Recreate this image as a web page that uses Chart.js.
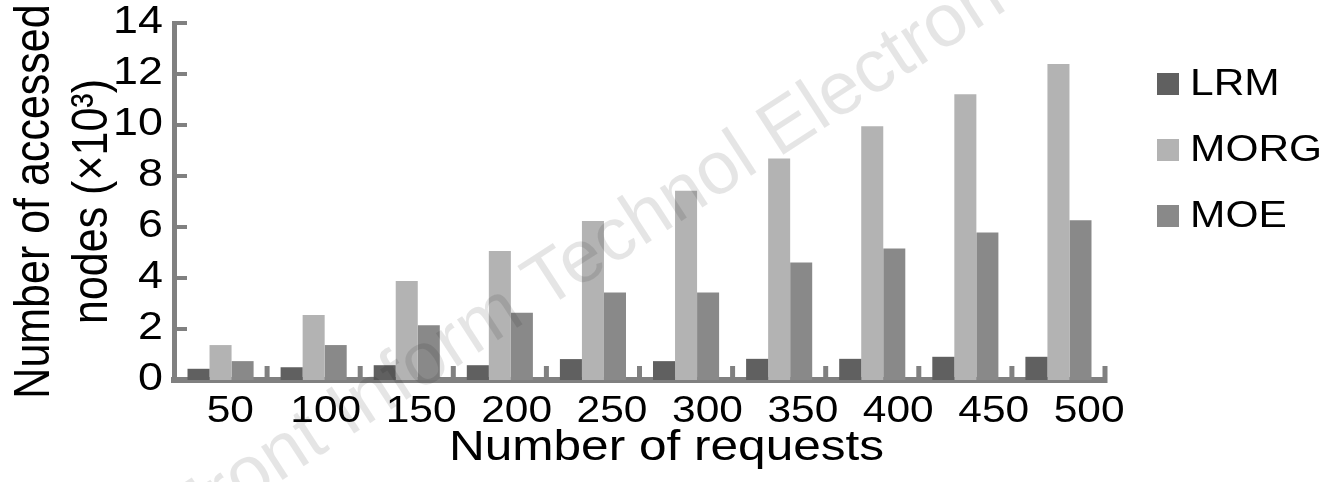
<!DOCTYPE html>
<html>
<head>
<meta charset="utf-8">
<script src="https://cdn.jsdelivr.net/npm/chart.js@4/dist/chart.umd.min.js"></script>
<style>
  html, body { margin: 0; padding: 0; background: #ffffff; }
  #wrap { width: 1333px; height: 482px; }
</style>
</head>
<body>
<div id="wrap"><canvas id="chart" width="1333" height="482"></canvas></div>
<script>
// Number of accessed nodes (thousands) per request count
const requestCounts = ['50', '100', '150', '200', '250', '300', '350', '400', '450', '500'];
const lrmNodes  = [0.44, 0.50, 0.58, 0.58, 0.82, 0.74, 0.83, 0.83, 0.91, 0.91];
const morgNodes = [1.37, 2.55, 3.88, 5.06, 6.24, 7.42, 8.69, 9.95, 11.21, 12.39];
const moeNodes  = [0.74, 1.37, 2.15, 2.64, 3.43, 3.43, 4.61, 5.16, 5.78, 6.26];
const yTicks = [0, 2, 4, 6, 8, 10, 12, 14];
const seriesLabels = ['LRM', 'MORG', 'MOE'];
const seriesColors = ['#606060', '#b3b3b3', '#898989'];

const FONT = '"Liberation Sans", Arial, Helvetica, sans-serif';
const AXIS_GRAY = '#808080';
const TEXT_STRETCH = 1.18;

const canvas = document.getElementById('chart');
const ctx = canvas.getContext('2d');
const plainFillText = ctx.fillText;

// Wide lettering: every label is stretched horizontally about its anchor point
ctx.fillText = function (text, x, y, maxWidth) {
  const m = this.getTransform();
  const p = m.transformPoint(new DOMPoint(x, y));
  this.save();
  this.setTransform(new DOMMatrix()
    .translate(p.x, p.y).scale(TEXT_STRETCH, 1).translate(-p.x, -p.y)
    .multiply(m));
  if (maxWidth === undefined || maxWidth === null) {
    plainFillText.call(this, text, x, y);
  } else {
    plainFillText.call(this, text, x, y, maxWidth);
  }
  this.restore();
};

// Short tick marks pointing into the plot: y ticks at each value,
// x ticks at the boundaries between request groups.
const axisMarks = {
  id: 'axisMarks',
  afterDatasetsDraw(chart) {
    const { ctx: c, chartArea: a, scales: { x, y } } = chart;
    c.save();
    c.strokeStyle = AXIS_GRAY;
    c.lineWidth = 4;
    c.beginPath();
    yTicks.forEach(v => {
      const py = Math.round(y.getPixelForValue(v));
      c.moveTo(a.left, py);
      c.lineTo(a.left + 13, py);
    });
    c.stroke();
    c.lineWidth = 5;
    c.beginPath();
    const n = requestCounts.length;
    for (let i = 1; i <= n; i++) {
      const px = i < n ? (x.getPixelForValue(i - 1) + x.getPixelForValue(i)) / 2 : a.right;
      c.moveTo(px, a.bottom - 14);
      c.lineTo(px, a.bottom + 3);
    }
    c.stroke();
    c.restore();
  }
};

// Journal watermark running diagonally across the figure
const watermark = {
  id: 'watermark',
  afterDraw(chart) {
    const c = chart.ctx;
    c.save();
    c.translate(184, 544);
    c.rotate(-33 * Math.PI / 180);
    c.font = '75px ' + FONT;
    c.fillStyle = 'rgba(0,0,0,0.1)';
    c.textAlign = 'left';
    c.textBaseline = 'alphabetic';
    plainFillText.call(c, 'Front Inform Technol Electron', 0, 0);
    c.restore();
  }
};

// Legend column to the right of the plot, laid out as a chart box
const sideLegend = {
  id: 'sideLegend',
  beforeInit(chart) {
    const box = {
      position: 'right',
      weight: 0,
      fullSize: false,
      options: {},
      left: 0, top: 0, right: 0, bottom: 0, width: 0, height: 0,
      isHorizontal() { return false; },
      update(maxWidth, maxHeight) {
        this.width = 228;
        this.height = maxHeight;
      },
      draw() {
        const c = chart.ctx;
        const a = chart.chartArea;
        c.save();
        c.font = '36px ' + FONT;
        c.textAlign = 'left';
        c.textBaseline = 'alphabetic';
        chart.data.datasets.forEach((ds, i) => {
          const base = a.top + 72 + i * 66;
          c.fillStyle = ds.backgroundColor;
          c.fillRect(this.left + 52, base - 22, 22, 22);
          c.fillStyle = '#000000';
          c.fillText(ds.label, this.left + 85, base);
        });
        c.restore();
      }
    };
    Chart.layouts.addBox(chart, box);
  }
};

new Chart(ctx, {
  type: 'bar',
  data: {
    labels: requestCounts,
    datasets: [
      { label: seriesLabels[0], data: lrmNodes,  backgroundColor: seriesColors[0] },
      { label: seriesLabels[1], data: morgNodes, backgroundColor: seriesColors[1] },
      { label: seriesLabels[2], data: moeNodes,  backgroundColor: seriesColors[2] }
    ]
  },
  options: {
    responsive: false,
    animation: false,
    devicePixelRatio: 1,
    layout: { padding: { left: 0, right: 0, top: 23, bottom: 0 } },
    datasets: { bar: { categoryPercentage: 0.71, barPercentage: 1.0 } },
    plugins: {
      legend: { display: false },
      tooltip: { enabled: false },
      title: {
        display: true,
        position: 'bottom',
        text: 'Number of requests',
        color: '#000000',
        font: { family: FONT, size: 42, weight: 'normal', lineHeight: 1.2 },
        padding: { top: 0, bottom: 8 }
      }
    },
    scales: {
      x: {
        z: 1,
        weight: 0,
        grid: { display: false, drawTicks: false },
        border: { display: true, color: AXIS_GRAY, width: 6 },
        ticks: { display: false },
        afterFit(scale) { scale.height = 0; }
      },
      // request-count labels along the bottom
      xLabels: {
        type: 'linear',
        position: 'bottom',
        weight: 1,
        offset: false,
        min: 20.5,
        max: 508.3,
        afterBuildTicks(scale) {
          scale.ticks = requestCounts.map(v => ({ value: Number(v) }));
        },
        grid: { display: false, drawTicks: false, offset: false },
        border: { display: false },
        ticks: {
          color: '#000000',
          font: { family: FONT, size: 36, lineHeight: 1.2 },
          padding: 10,
          maxRotation: 0,
          autoSkip: false,
          callback: v => String(v)
        },
        afterFit(scale) { scale.height = 43.6; }
      },
      y: {
        min: 0,
        max: 14,
        afterBuildTicks(scale) { scale.ticks = yTicks.map(v => ({ value: v })); },
        grid: { display: false, drawTicks: false },
        border: { display: true, color: AXIS_GRAY, width: 5 },
        ticks: {
          color: '#000000',
          font: { family: FONT, size: 38 },
          padding: 11
        },
        title: {
          display: true,
          text: ['Number of accessed', 'nodes (\u00d710\u00b3)'],
          color: '#000000',
          font: { family: FONT, size: 43, lineHeight: 1.35 },
          padding: { top: 6, bottom: 0 }
        },
        afterFit(scale) {
          scale.width = 174;
          scale.paddingTop = 0;
          scale.paddingBottom = 0;
        }
      }
    }
  },
  plugins: [axisMarks, watermark, sideLegend]
});
</script>
</body>
</html>
